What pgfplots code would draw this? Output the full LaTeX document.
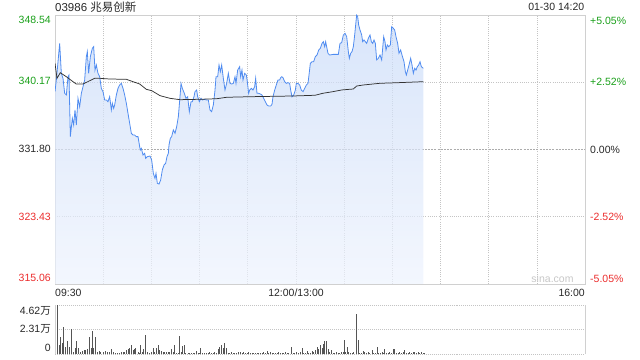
\documentclass[border=0pt]{standalone}
\usepackage{fontspec}
\setmainfont{Liberation Sans}
\newfontfamily\cjk{Noto Sans CJK SC}
\usepackage{pgfplots}
\pgfplotsset{compat=1.18}
\usepackage{pgfplotstable}

\definecolor{upg}{RGB}{26,160,26}
\definecolor{dnr}{RGB}{235,45,45}
\definecolor{txt}{RGB}{40,40,40}
\definecolor{gridc}{RGB}{196,196,196}
\definecolor{framec}{RGB}{208,208,208}
\definecolor{pline}{RGB}{80,140,240}
\definecolor{fillt}{RGB}{200,218,248}
\definecolor{fillb}{RGB}{238,243,253}
\definecolor{volc}{RGB}{85,85,85}
\newcommand\fs{\fontsize{10.5bp}{12bp}\selectfont}

\pgfplotstableread{
m P
0 339.00
0.83 340.45
2.91 345.01
3.94 341.28
4.98 340.66
6.02 338.79
7.06 338.58
8.09 340.86
8.72 341.07
9.55 333.40
10.79 335.68
11.62 334.85
12.45 336.72
13.28 334.85
14.32 338.17
15.36 337.13
16.40 338.79
17.43 339.62
18.47 340.45
19.51 343.35
20.13 343.98
20.96 341.28
22.00 343.35
23.25 344.39
24.08 344.60
24.91 341.69
25.74 342.32
26.77 341.28
27.81 340.86
28.85 339.41
29.89 339.00
30.92 337.96
31.96 337.96
33.00 337.75
34.04 338.37
35.08 336.72
35.70 337.55
36.53 336.92
37.15 337.34
38.19 338.58
39.23 339.41
40.27 339.83
41.30 340.03
42.34 339.41
43.38 338.58
44.42 337.55
45.45 336.30
46.49 335.06
47.53 333.81
48.57 333.60
49.60 333.60
50.64 333.40
51.68 333.40
52.72 332.15
53.13 331.74
53.76 331.94
54.79 331.11
55.83 331.32
56.45 330.70
57.49 330.91
59.15 330.99
60.19 330.49
61.23 328.83
62.27 328.21
62.89 328.83
63.72 327.59
64.76 327.50
65.79 328.00
66.83 329.25
67.87 329.87
68.91 330.08
69.74 330.91
70.57 331.32
70.98 332.36
71.81 333.19
72.64 333.40
73.68 334.23
74.72 333.81
75.76 334.64
76.80 335.89
77.83 338.37
78.46 340.03
79.29 339.41
80.53 338.79
81.57 338.17
82.61 338.37
83.64 336.51
84.68 337.75
85.51 337.75
86.55 338.37
87.17 339.00
88.21 339.20
88.83 338.37
89.87 337.75
90.91 338.17
91.74 337.96
92.98 338.04
94.44 337.96
95.47 337.96
96.51 336.72
97.55 336.51
98.59 337.34
99.63 339.20
100.25 340.86
101.29 340.86
102.12 342.32
102.95 341.49
103.78 342.32
104.81 340.66
105.85 339.20
106.89 340.03
107.93 341.28
108.96 340.03
110.00 339.95
111.04 340.03
112.08 340.86
112.70 340.03
113.74 341.69
114.98 342.11
115.60 340.86
116.43 341.69
117.05 340.45
118.09 341.28
119.13 341.07
119.75 340.24
120.58 338.79
121.20 339.20
122.24 339.41
123.28 339.20
124.32 339.62
124.94 340.66
125.77 338.79
126.81 338.79
127.85 338.71
128.88 338.58
129.92 338.17
130.96 337.75
132.00 337.34
133.03 337.21
134.28 337.21
135.11 337.42
135.73 338.37
136.77 339.20
137.81 339.83
138.85 340.45
139.88 340.45
140.51 340.74
141.13 340.86
141.96 340.74
143.00 340.24
144.03 340.03
145.07 340.12
146.11 340.03
146.73 339.20
147.56 338.37
148.60 338.58
149.64 339.20
150.26 340.03
151.30 340.03
152.34 339.83
153.37 339.20
154.41 339.00
155.45 339.41
156.49 339.83
157.53 340.03
158.15 341.07
158.98 342.52
160.02 342.73
161.05 342.73
162.09 343.35
163.13 343.56
164.17 344.18
165.20 344.39
166.24 345.01
167.07 345.22
167.90 344.60
168.53 345.22
169.36 344.39
169.98 343.77
171.02 343.56
173.31 343.64
176.42 343.64
177.46 345.01
178.49 345.10
179.53 346.05
180.57 346.26
181.61 345.84
182.65 343.98
183.27 343.15
184.10 343.77
184.93 343.98
185.76 344.60
186.59 346.05
187.21 347.30
187.83 348.54
188.46 348.33
189.08 347.30
189.91 346.67
190.95 346.05
191.57 345.22
192.40 345.43
193.23 345.22
194.06 345.01
195.10 345.64
196.14 346.05
196.97 345.22
197.80 345.01
198.63 345.43
199.46 345.01
200.29 342.94
201.33 343.15
202.36 343.56
203.40 342.94
204.02 344.39
204.65 345.84
205.48 345.22
206.10 344.18
206.93 344.81
207.76 344.60
208.80 344.81
209.63 347.09
210.66 346.88
211.49 346.67
212.32 345.84
213.36 345.01
214.19 343.77
215.23 344.18
216.06 343.56
217.31 342.73
218.14 341.49
218.76 341.07
219.59 341.69
220.42 342.32
221.46 343.15
222.29 342.32
223.12 341.28
223.95 341.90
224.78 341.69
225.61 342.11
226.44 342.32
227.27 342.73
228.10 342.11
229.34 341.90
}\price

\pgfplotstableread{
m A
0 342.53
1.25 340.66
3.30 341.36
7.04 340.86
11.21 340.24
13.26 339.95
17.43 339.95
21.61 340.36
24.72 340.66
27.83 340.66
34.25 340.57
44.39 340.54
48.57 340.24
52.74 339.95
56.85 339.29
60.21 339.12
65.38 338.50
71.60 338.17
77.83 338.00
90.28 338.05
100.68 338.12
106.91 338.30
121.42 338.37
148.37 338.46
161.89 338.55
166.87 338.80
173.10 339.00
178.51 339.21
185.73 339.33
187.85 339.70
191.96 339.83
202.36 340.04
212.76 340.11
229.32 340.24
}\avgp

\pgfplotstableread{
m V
0.21 4.21
1.25 4.62
2.70 0.85
3.32 1.63
4.36 1.07
5.19 2.51
6.43 0.69
7.68 1.26
8.72 0.69
10.17 2.33
11.42 0.22
12.66 0.60
13.28 1.26
14.53 0.53
15.77 0.22
17.02 0.31
18.06 0.38
19.09 0.38
20.13 0.44
21.38 1.63
22.42 0.53
23.25 2.17
24.08 0.53
25.11 1.63
26.36 0.22
27.60 0.31
28.43 0.16
29.89 0.22
31.34 0.31
32.59 0.16
33.62 0.16
35.08 0.44
36.32 0.16
37.57 0.13
38.81 0.06
39.85 0.13
41.09 0.16
42.34 0.16
43.38 0.22
44.42 0.38
45.66 0.44
46.49 0.53
47.53 0.85
48.57 0.38
49.60 0.44
50.23 0.53
51.68 0.22
52.72 0.13
53.13 0.85
54.17 0.22
55.21 0.44
56.25 1.79
57.49 0.22
58.53 0.13
59.77 0.22
61.02 0.53
62.06 0.22
63.10 0.53
64.34 0.85
65.17 0.38
66.21 0.31
67.25 0.22
68.29 0.22
69.32 0.16
70.36 0.22
71.40 0.22
72.64 0.44
73.47 0.22
74.51 0.85
75.55 0.06
76.59 0.13
77.62 1.70
78.66 0.22
79.49 0.75
80.32 0.85
81.36 0.06
82.81 0.06
83.85 0.06
84.89 0.06
85.93 0.06
86.96 0.13
88.00 0.28
89.04 0.06
90.08 0.06
90.70 0.53
91.74 0.13
92.98 0.06
94.23 0.06
95.26 0.13
96.30 0.16
97.34 0.06
98.38 0.13
99.42 0.16
100.46 0.13
101.49 0.44
102.53 0.69
103.57 0.85
104.61 0.53
105.64 1.07
106.68 0.53
107.72 0.13
108.76 0.06
109.79 0.16
110.83 0.13
111.87 0.06
112.91 0.06
113.95 0.16
114.36 0.13
115.40 0.16
116.43 0.06
117.47 0.16
118.51 0.06
119.55 0.13
120.58 0.16
121.62 0.06
122.66 0.13
123.70 0.06
124.74 0.06
125.77 0.13
126.81 0.06
127.85 0.06
128.89 0.13
129.92 0.16
130.96 0.06
132.00 0.31
133.04 0.06
134.08 0.16
135.11 0.13
136.15 0.06
137.19 0.13
138.23 0.06
139.26 0.16
140.30 0.06
141.34 0.13
142.38 0.06
143.41 0.16
144.45 0.13
145.49 0.06
147.15 0.63
148.19 0.13
149.23 0.06
150.26 0.16
151.30 0.06
152.75 0.22
154.00 0.53
154.83 0.13
155.87 0.06
156.91 0.28
157.94 0.13
158.98 0.06
160.02 0.28
161.06 0.22
162.09 0.38
163.13 0.63
164.17 0.44
165.21 0.85
166.25 0.53
167.28 0.94
167.91 1.23
168.94 1.23
169.98 0.44
171.02 0.22
172.06 0.38
173.09 0.06
174.13 0.13
175.17 0.22
176.21 0.06
177.25 0.13
178.28 0.22
179.32 0.22
180.15 1.32
180.98 0.22
182.02 0.63
182.85 0.22
183.89 0.13
184.92 0.06
185.96 0.16
187.62 3.77
188.66 1.32
189.70 0.13
190.74 0.06
191.77 0.28
192.81 0.22
193.85 0.13
194.89 0.22
195.93 0.13
197.38 0.38
198.42 0.06
199.45 0.13
200.49 0.63
201.53 0.06
202.57 0.13
203.60 0.22
204.64 0.13
205.27 0.44
206.30 0.13
207.34 0.06
208.38 0.16
209.42 0.06
210.45 0.44
211.49 0.44
212.53 0.13
213.57 0.06
214.60 0.16
215.64 0.06
216.68 0.22
217.51 0.38
218.76 0.13
219.79 0.06
220.83 0.16
221.87 0.06
222.91 0.16
223.94 0.22
224.98 0.06
226.02 0.22
227.06 0.06
228.10 0.16
229.13 0.13
229.90 0.06
}\volt

\begin{document}
\begin{tikzpicture}
\useasboundingbox (0,0) rectangle (640bp,360bp);
\begin{axis}[
  at={(55bp,76bp)}, anchor=south west, scale only axis,
  width=530bp, height=269bp,
  xmin=0, xmax=330, ymin=315.06, ymax=348.54,
  axis line style={framec, line width=0.8pt},
  xtick={0,30,...,330}, ytick={315.06,323.43,340.17,348.54},
  xticklabels={}, yticklabels={},
  major tick length=0pt,
  grid=major,
  grid style={gridc, line width=0.6pt, dash pattern=on 1pt off 1.2pt},
  extra y ticks={331.80}, extra y tick labels={},
  extra y tick style={grid style={gray!65, line width=0.6pt, dash pattern=on 2pt off 1.2pt}},
  clip=true, axis on top=false,
]
\addplot[draw=none, top color=fillt, bottom color=fillb, fill opacity=0.7] table[x=m,y=P] {\price} -- (axis cs:229.34,315.06) -- (axis cs:0,315.06) -- cycle;
\addplot[pline, line width=0.8pt, mark=none] table[x=m,y=P] {\price};
\addplot[black!80, line width=0.75pt, mark=none] table[x=m,y=A] {\avgp};
\end{axis}

\begin{axis}[
  at={(55bp,6bp)}, anchor=south west, scale only axis,
  width=530bp, height=49bp,
  xmin=0, xmax=330, ymin=0, ymax=4.62,
  axis line style={draw=none},
  xtick=\empty, ytick={0,2.31,4.62}, yticklabels={},
  major tick length=0pt,
  ymajorgrids,
  grid style={gridc, line width=0.9pt, dash pattern=on 1pt off 1pt},
  clip=false,
]
\addplot[ycomb, volc, line width=0.9pt, mark=none] table[x=m,y=V] {\volt};
\draw[framec, line width=0.8pt] (rel axis cs:0,0) -- (rel axis cs:0,1);
\draw[framec, line width=0.8pt] (rel axis cs:1,0) -- (rel axis cs:1,1);
\end{axis}

% titles
\node[anchor=west, inner sep=0pt, text=txt, font=\fontsize{11.5bp}{13bp}\selectfont] at (55bp,352.5bp) {03986 {\cjk 兆易创新}};
\node[anchor=east, inner sep=0pt, text=txt, font=\fs] at (584.5bp,352.7bp) {01-30 14:20};
% left price labels
\node[anchor=east, inner sep=0pt, text=upg, font=\fs] at (51bp,340bp) {348.54};
\node[anchor=east, inner sep=0pt, text=upg, font=\fs] at (51bp,279bp) {340.17};
\node[anchor=east, inner sep=0pt, text=txt, font=\fs] at (51bp,211bp) {331.80};
\node[anchor=east, inner sep=0pt, text=dnr, font=\fs] at (51bp,143bp) {323.43};
\node[anchor=east, inner sep=0pt, text=dnr, font=\fs] at (51bp,82bp) {315.06};
% right pct labels
\node[anchor=west, inner sep=0pt, text=upg, font=\fs] at (590bp,339.5bp) {+5.05\%};
\node[anchor=west, inner sep=0pt, text=upg, font=\fs] at (590bp,278.5bp) {+2.52\%};
\node[anchor=west, inner sep=0pt, text=txt, font=\fs] at (590bp,210.5bp) {0.00\%};
\node[anchor=west, inner sep=0pt, text=dnr, font=\fs] at (590bp,143bp) {-2.52\%};
\node[anchor=west, inner sep=0pt, text=dnr, font=\fs] at (590bp,81.5bp) {-5.05\%};
% time labels
\node[anchor=west, inner sep=0pt, text=txt, font=\fs] at (55bp,67.3bp) {09:30};
\node[inner sep=0pt, text=txt, font=\fs] at (296bp,67.3bp) {12:00/13:00};
\node[anchor=east, inner sep=0pt, text=txt, font=\fs] at (585bp,67.3bp) {16:00};
% watermark
\node[inner sep=0pt, text=black!22, font=\fs] at (552.5bp,81bp) {sina.com};
% volume labels
\node[anchor=east, inner sep=0pt, text=txt, font=\fs] at (51bp,49bp) {4.62{\cjk 万}};
\node[anchor=east, inner sep=0pt, text=txt, font=\fs] at (51bp,31bp) {2.31{\cjk 万}};
\node[anchor=east, inner sep=0pt, text=txt, font=\fs] at (51bp,12bp) {0};
\end{tikzpicture}
\end{document}
